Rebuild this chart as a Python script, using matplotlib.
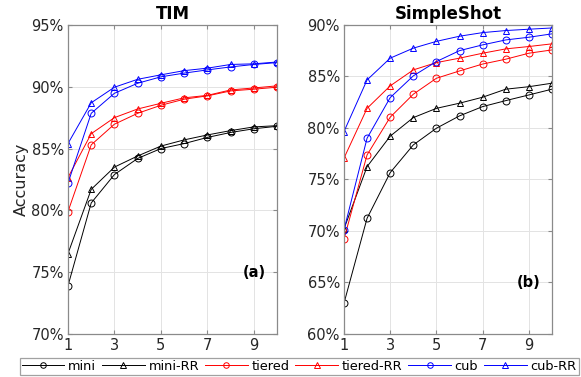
import matplotlib.pyplot as plt
from matplotlib.ticker import FuncFormatter

shots = [1, 2, 3, 4, 5, 6, 7, 8, 9, 10]

# TIM accuracies (%)
tim_mini = [73.9, 80.6, 82.9, 84.2, 85.0, 85.4, 85.9, 86.3, 86.6, 86.8]
tim_mini_rr = [76.5, 81.7, 83.5, 84.4, 85.2, 85.7, 86.1, 86.45, 86.75, 86.85]
tim_tiered = [79.9, 85.3, 86.97, 87.85, 88.5, 88.99, 89.26, 89.66, 89.8, 89.96]
tim_tiered_rr = [82.65, 86.2, 87.5, 88.2, 88.66, 89.1, 89.3, 89.74, 89.9, 90.07]
tim_cub = [82.2, 87.85, 89.47, 90.28, 90.8, 91.1, 91.36, 91.6, 91.8, 91.95]
tim_cub_rr = [85.4, 88.7, 89.96, 90.6, 90.96, 91.3, 91.5, 91.8, 91.85, 92.0]

# SimpleShot accuracies (%)
ss_mini = [62.98, 71.23, 75.66, 78.35, 79.97, 81.17, 82.07, 82.65, 83.2, 83.76]
ss_mini_rr = [70.2, 76.24, 79.2, 81.0, 81.9, 82.4, 82.98, 83.76, 84.0, 84.34]
ss_tiered = [69.2, 77.38, 81.04, 83.27, 84.82, 85.53, 86.2, 86.67, 87.25, 87.57]
ss_tiered_rr = [77.06, 81.9, 84.08, 85.63, 86.34, 86.77, 87.25, 87.67, 87.9, 88.16]
ss_cub = [70.1, 79.0, 82.94, 85.05, 86.44, 87.5, 88.06, 88.54, 88.8, 89.13]
ss_cub_rr = [79.64, 84.66, 86.77, 87.74, 88.4, 88.9, 89.25, 89.45, 89.58, 89.7]

labels = ['mini', 'mini-RR', 'tiered', 'tiered-RR', 'cub', 'cub-RR']
colors = ['black', 'black', 'red', 'red', 'blue', 'blue']
markers = ['o', '^', 'o', '^', 'o', '^']

tim_data = [tim_mini, tim_mini_rr, tim_tiered, tim_tiered_rr, tim_cub, tim_cub_rr]
ss_data = [ss_mini, ss_mini_rr, ss_tiered, ss_tiered_rr, ss_cub, ss_cub_rr]

plt.rcParams['font.family'] = 'DejaVu Sans'
fig = plt.figure(figsize=(5.81, 3.77), dpi=100)
ax1 = fig.add_axes([0.117, 0.114, 0.360, 0.820])
ax2 = fig.add_axes([0.592, 0.114, 0.358, 0.820])

def style_axis(ax, title, ylim, yticks, tag, tag_y):
    ax.set_xlim(1, 10)
    ax.set_ylim(*ylim)
    ax.set_xticks([1, 3, 5, 7, 9])
    ax.set_yticks(yticks)
    ax.yaxis.set_major_formatter(FuncFormatter(lambda v, p: '%d%%' % v))
    ax.grid(True, color='#e3e3e3', linewidth=0.7)
    ax.set_axisbelow(True)
    for s in ax.spines.values():
        s.set_color('#8a8a8a')
        s.set_linewidth(0.9)
    ax.tick_params(direction='in', length=3, color='#8a8a8a', labelsize=10.5,
                   labelcolor='#262626', top=True, right=True, pad=3)
    ax.set_title(title, fontsize=12, fontweight='bold', pad=4)
    ax.text(9.5, tag_y, tag, fontsize=10.5, fontweight='bold', ha='right', va='center')

for ax, data in [(ax1, tim_data), (ax2, ss_data)]:
    for vals, lab, c, m in zip(data, labels, colors, markers):
        ax.plot(shots, vals, color=c, marker=m, markersize=5, markerfacecolor='none',
                markeredgewidth=0.7, linewidth=0.7, label=lab)

style_axis(ax1, 'TIM', (70, 95), [70, 75, 80, 85, 90, 95], '(a)', 75)
style_axis(ax2, 'SimpleShot', (60, 90), [60, 65, 70, 75, 80, 85, 90], '(b)', 65)
ax1.set_ylabel('Accuracy', fontsize=11.5, color='#262626', labelpad=2)

handles, labs = ax1.get_legend_handles_labels()
leg = fig.legend(handles, labs, ncol=6, loc='center', bbox_to_anchor=(0.515, 0.029),
                 fontsize=9.3, frameon=True, fancybox=False, handlelength=3.3,
                 handletextpad=0.3, columnspacing=0.45, borderpad=0.15,
                 borderaxespad=0, markerscale=0.8)
leg.get_frame().set_edgecolor('#8a8a8a')
leg.get_frame().set_linewidth(0.9)

plt.savefig('out.png', dpi=100)
